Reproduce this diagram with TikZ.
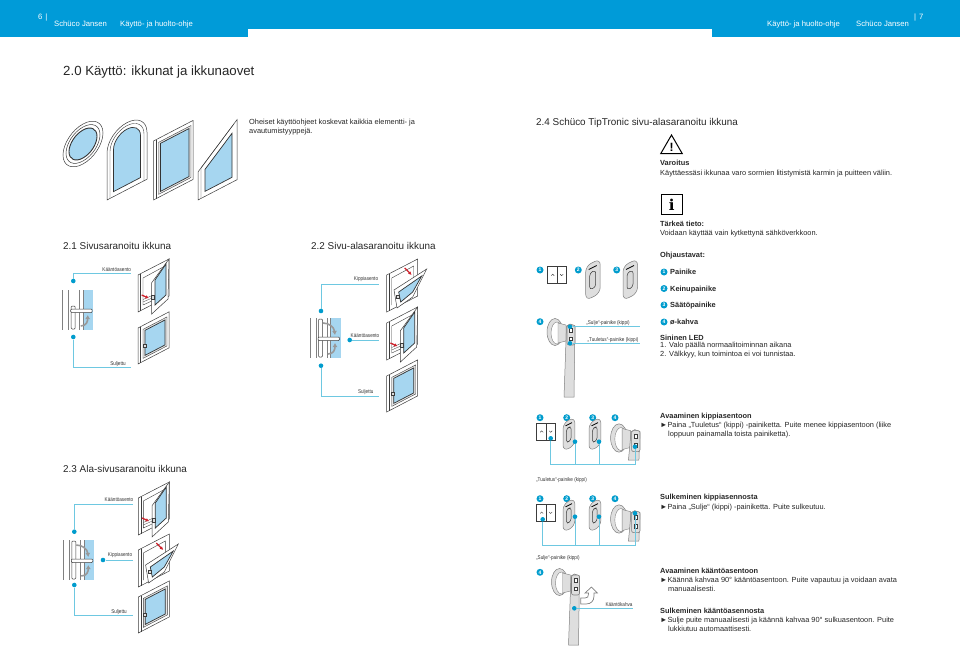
\documentclass[tikz,border=0pt]{standalone}
\usepackage{fontspec}
\setmainfont{Liberation Sans}
\newfontfamily\condfont[FakeStretch=0.84]{Liberation Sans}
\newfontfamily\slabfont{DejaVu Serif}
\usetikzlibrary{arrows.meta, shapes.geometric, calc}
\definecolor{bandblue}{RGB}{0,155,216}
\definecolor{dotblue}{RGB}{0,156,205}
\definecolor{leadblue}{RGB}{110,200,225}
\definecolor{glassblue}{RGB}{166,214,240}
\definecolor{inkgray}{RGB}{60,60,60}
\definecolor{platefill}{RGB}{222,222,222}
\definecolor{arrowred}{RGB}{205,35,45}
\tikzset{
	bandtext/.style={font=\fontsize{7.7}{8}\selectfont, text=white, anchor=base west, inner sep=0pt},
	headtext/.style={font=\fontsize{9.9}{11}\selectfont, text=black!85, anchor=base west, inner sep=0pt},
	bodytext/.style={font=\fontsize{7.4}{8}\selectfont, text=black!85, anchor=base west, inner sep=0pt},
	boldtext/.style={font=\fontsize{7.4}{8}\selectfont\bfseries, text=black!85, anchor=base west, inner sep=0pt},
	smalllabel/.style={font=\condfont\fontsize{5.5}{6}\selectfont, text=black!80, inner sep=0pt},
	bluedot/.style={circle, fill=dotblue, inner sep=0pt, minimum size=4.6pt},
	badge/.style={circle, fill=dotblue, text=white, inner sep=0pt, minimum size=7pt, font=\fontsize{5}{5}\selectfont\bfseries},
	leader/.style={draw=leadblue, line width=0.9pt},
	frameline/.style={draw=inkgray, line width=0.5pt, fill=white},
	glass/.style={draw=black!80, line width=0.7pt, fill=glassblue},
	redarrow/.style={draw=arrowred, line width=1.3pt, -{Latex[length=3.5pt,width=3.5pt]}},
	swing/.style={draw=gray!80, line width=1.6pt, line cap=butt, -{Latex[length=4pt,width=5pt]}}
}
% window seen at an angle
\newcommand{\skewwin}[4]{
	\begin{scope}[cm={1,0.52,0,1,(#1,#2)}]
		\draw[frameline] (0,0) rectangle (#3,#4);
		\draw[draw=inkgray, line width=0.4pt] (2.5,0) -- (2.5,#4);
		\draw[draw=inkgray, line width=0.4pt, fill=white!90!black] (5,4) rectangle ({#3-2},{#4-3});
		\draw[glass] (7,6) rectangle ({#3-4},{#4-5});
	\end{scope}
}
\newcommand{\closedwin}[2]{
	\skewwin{#1}{#2}{31}{36}
	\begin{scope}[shift={(#1,#2)}]
		\draw[frameline, fill=platefill] (5,16) rectangle (8,19.5);
	\end{scope}
}
\newcommand{\turnwin}[2]{
	\begin{scope}[shift={(#1,#2)}]
		\draw[frameline] (0,0) -- (31,-16) -- (31,21) -- (0,37) -- cycle;
		\draw[draw=inkgray, line width=0.4pt] (2.5,-1.3) -- (2.5,35.7);
		\draw[draw=inkgray, line width=0.4pt] (5,3) -- (27,-9) -- (27,19) (5,3) -- (5,30) -- (16,25);
		\draw[draw=inkgray, line width=0.3pt] (5,27) -- (14,23) (5,24.5) -- (14,20.5);
		\draw[frameline] (13.7,7.7) -- (31,-16) -- (30,24) -- (13.7,39) -- cycle;
		\draw[glass] (17,5) -- (28,-11) -- (28,20) -- (17,30) -- cycle;
		\draw[frameline, fill=platefill] (13.5,20.5) rectangle (16.5,24);
		\draw[redarrow] (3.7,20) -- (11,23.3);
	\end{scope}
}
\newcommand{\tiltwin}[2]{
	\begin{scope}[shift={(#1,#2)}]
		\draw[frameline] (0,0) -- (31,-16) -- (31,21) -- (0,37) -- cycle;
		\draw[draw=inkgray, line width=0.4pt] (2.5,-1.3) -- (2.5,35.7);
		\draw[draw=inkgray, line width=0.4pt] (5,3) -- (27,-9) -- (27,5) (5,3) -- (5,30);
		\draw[frameline] (7.3,15) -- (40,-6) -- (26,22) -- (10.3,33) -- cycle;
		\draw[glass] (12,17) -- (35,1) -- (26,17) -- (14,27) -- cycle;
		\draw[frameline, fill=platefill] (9.5,20) rectangle (12.5,23.5);
		\draw[redarrow] (18,-7) -- (25,0);
	\end{scope}
}
% cross section with the handle positions
\newcommand{\sectionview}[3]{
	\begin{scope}[shift={(#1,#2)}]
		\fill[glassblue] (20.5,0) rectangle (30.5,40);
		\draw[draw=gray, line width=0.6pt] (0,0) -- (0,40) (6,0) -- (6,40) (17,0) -- (17,40) (20.5,0) -- (20.5,40);
		\draw[frameline, rounded corners=1pt] (8.5,#3) rectangle (12.5,39);
		\draw[frameline, rounded corners=1pt] (8,19) rectangle (29.5,22.5);
		\draw[swing] (18,36) .. controls (24,36) and (25,31) .. (25,25);
	\end{scope}
}
\newcommand{\upswing}[2]{
	\begin{scope}[shift={(#1,#2)}]
		\draw[swing] (13,5) .. controls (19,5) and (24,9) .. (25,17);
	\end{scope}
}
% cover plate of a button
\newcommand{\coverplate}[3]{
	\begin{scope}[shift={(#1,#2)}, scale=#3, cm={1,0.5,0,1,(0,0)}]
		\draw[draw=gray, line width=0.5pt, fill=platefill, rounded corners=6pt] (0,0) rectangle (14.5,34.5);
		\draw[draw=inkgray, line width=0.5pt, fill=white!85!black, rounded corners=3pt] (4,9) rectangle (10,26);
		\draw[draw=black, line width=0.8pt] (3,5) -- (11,5);
	\end{scope}
}
% handle with its rose
\newcommand{\kahva}[4]{
	\begin{scope}[shift={(#1,#2)}, scale=#3]
		\draw[draw=gray, line width=0.5pt, fill=platefill] (0,0) ellipse [x radius=8pt, y radius=13.5pt];
		\draw[draw=gray, line width=0.4pt, fill=white] (2,1) ellipse [x radius=6pt, y radius=11pt];
		\draw[draw=gray, line width=0.4pt, fill=platefill] (3,-9) -- (11,-7) -- (11,9) -- (3,11) -- cycle;
		\draw[draw=gray, line width=0.5pt, fill=platefill] (11.5,-6) -- (15,-8) -- (20,-6) -- (19,#4) -- (9,#4) -- cycle;
		\draw[draw=gray, line width=0.6pt, fill=platefill, rounded corners=2pt] (12,-7) rectangle (20,13);
		\draw[draw=inkgray, line width=0.5pt, fill=white] (14.5,-3.5) rectangle (17.5,0) (14.5,5) rectangle (17.5,8.5);
	\end{scope}
}
\newcommand{\schalter}[2]{
	\begin{scope}[shift={(#1,#2)}]
		\draw[draw=inkgray, line width=1pt, fill=white] (0,0) rectangle (19,17);
		\draw[draw=inkgray, line width=1pt] (9.5,0) -- (9.5,17);
		\draw[draw=inkgray, line width=0.4pt] (3.5,9) -- (5,7.5) -- (6.5,9) (12.5,7.5) -- (14,9) -- (15.5,7.5);
	\end{scope}
}
\begin{document}
\begin{tikzpicture}[x=1pt,y=-1pt]
	\useasboundingbox (0,0) rectangle (960,647);
	% header bands
	\fill[bandblue] (0,0) rectangle (248,37);
	\fill[bandblue] (248,0) rectangle (712,29);
	\fill[bandblue] (712,0) rectangle (960,37);
	\node[bandtext] (page6) at (38,20) {6\hspace{3pt}|};
	\node[bandtext] (leftfirm) at (54,27) {Schüco Jansen};
	\node[bandtext] (lefttitle) at (120,27) {Käyttö- ja huolto-ohje};
	\node[bandtext] (page7) at (914,20) {|\hspace{3pt}7};
	\node[bandtext] (righttitle) at (767,27) {Käyttö- ja huolto-ohje};
	\node[bandtext] (rightfirm) at (856,27) {Schüco Jansen};

	% headings
	\node[headtext, font=\fontsize{13.25}{14}\selectfont] (h20) at (63,76) {2.0 Käyttö: ikkunat ja ikkunaovet};
	\node[headtext] (h21) at (63,249.5) {2.1 Sivusaranoitu ikkuna};
	\node[headtext] (h22) at (311,249.5) {2.2 Sivu-alasaranoitu ikkuna};
	\node[headtext] (h23) at (63,472) {2.3 Ala-sivusaranoitu ikkuna};
	\node[headtext] (h24) at (536,126) {2.4 Schüco TipTronic sivu-alasaranoitu ikkuna};
	\node[bodytext] (introa) at (249,124.5) {Oheiset käyttöohjeet koskevat kaikkia elementti- ja};
	\node[bodytext] (introb) at (249,133.5) {avautumistyyppejä.};

	% window types
	\begin{scope}[cm={1,0.55,0,1,(83,144)}]
		\draw[frameline] (0,0) circle [radius=20pt];
		\draw[frameline] (0,0) circle [radius=17pt];
		\draw[glass, line width=0.9pt] (0,0) circle [radius=14pt];
	\end{scope}
	\begin{scope}[cm={1,0.52,0,1,(107,200)}]
		\draw[frameline] (0,0) -- (0,-47) arc [start angle=180, end angle=0, radius=20pt] -- (40,0) -- cycle;
		\draw[draw=inkgray, line width=0.4pt] (3,0) -- (3,-47) arc [start angle=180, end angle=0, radius=17pt] -- (37,0);
		\draw[glass] (6.5,-5) -- (6.5,-47) arc [start angle=180, end angle=0, radius=13.5pt] -- (33.5,-5) -- cycle;
	\end{scope}
	\skewwin{153.5}{141}{39.5}{59}
	\begin{scope}[cm={1,0.52,0,1,(198,200)}]
		\draw[frameline] (0,0) -- (0,-28) -- (39,-60) -- (39,0) -- cycle;
		\draw[draw=inkgray, line width=0.4pt] (3,0) -- (3,-30.5) -- (36,-57.5);
		\draw[glass] (7,-5) -- (7,-27) -- (34,-49) -- (34,-5) -- cycle;
	\end{scope}

	% 2.1
	\turnwin{138}{275}
	\closedwin{138}{328}
	\sectionview{62.7}{290}{16}
	\node[bluedot] (d21a) at (73.3,281) {};
	\node[bluedot] (d21b) at (73.3,337) {};
	\coordinate (e21a) at (130.7,273);
	\coordinate (e21b) at (130.7,367.7);
	\draw[leader] (d21a) |- (e21a);
	\draw[leader] (d21b) |- (e21b);
	\node[smalllabel] (l21a) at (116.7,270) {Kääntöasento};
	\node[smalllabel] (l21b) at (118,364.5) {Suljettu};

	% 2.2
	\tiltwin{386.7}{275}
	\turnwin{386.7}{323}
	\closedwin{386.7}{376}
	\sectionview{310}{318}{1}
	\upswing{310}{318}
	\node[bluedot] (d22a) at (321,311) {};
	\node[bluedot] (d22b) at (349.7,340) {};
	\node[bluedot] (d22c) at (321,365.7) {};
	\coordinate (e22a) at (379,284);
	\coordinate (e22b) at (379,340);
	\coordinate (e22c) at (379,396);
	\draw[leader] (d22a) |- (e22a);
	\draw[leader] (d22b) -- (e22b);
	\draw[leader] (d22c) |- (e22c);
	\node[smalllabel] (l22a) at (366,279) {Kippiasento};
	\node[smalllabel] (l22b) at (365,336) {Kääntöasento};
	\node[smalllabel] (l22c) at (365.7,392) {Suljettu};

	% 2.3
	\turnwin{138.3}{498}
	\tiltwin{138.3}{550}
	\closedwin{138.3}{597}
	\sectionview{63.3}{540}{1}
	\upswing{63.3}{540}
	\node[bluedot] (d23a) at (74.3,531.7) {};
	\node[bluedot] (d23b) at (103,560) {};
	\node[bluedot] (d23c) at (74.3,585) {};
	\coordinate (e23a) at (132.7,504.3);
	\coordinate (e23b) at (132.7,560);
	\coordinate (e23c) at (132.7,615.7);
	\draw[leader] (d23a) |- (e23a);
	\draw[leader] (d23b) -- (e23b);
	\draw[leader] (d23c) |- (e23c);
	\node[smalllabel] (l23a) at (119,499.3) {Kääntöasento};
	\node[smalllabel] (l23b) at (120,555) {Kippiasento};
	\node[smalllabel] (l23c) at (119,612) {Suljettu};

	% controls
	\node[badge] (b1) at (540,270) {1};
	\node[badge] (b2) at (578.3,270) {2};
	\node[badge] (b3) at (616.7,270) {3};
	\node[badge] (b4) at (540,321.7) {4};
	\schalter{547.7}{266.7}
	\coverplate{585.7}{266}{1}
	\coverplate{623}{266}{1}
	\kahva{555}{332}{1}{65}
	\node[bluedot] (dsulje) at (570,326.7) {};
	\node[bluedot] (dtuul) at (570,343.3) {};
	\coordinate (esulje) at (640,326.7);
	\coordinate (etuul) at (640,343.3);
	\draw[leader] (dsulje) -- (esulje);
	\draw[leader] (dtuul) -- (etuul);
	\node[smalllabel] (lsulje) at (608,322.7) {„Sulje“-painike (kippi)};
	\node[smalllabel] (ltuul) at (613,340) {„Tuuletus“-painike (kippi)};

	% row opening
	\foreach \bx/\bn in {540/1,566.7/2,592.7/3,615/4}{
		\node[badge] (ra\bn) at (\bx,417.7) {\bn};
		\node[badge] (rb\bn) at (\bx,498.7) {\bn};
	}
	\schalter{536.7}{423.3}
	\coverplate{563}{423}{0.82}
	\coverplate{589}{423}{0.82}
	\kahva{619}{438}{1.05}{21}
	\schalter{536.7}{504.5}
	\coverplate{563}{504}{0.82}
	\coverplate{589}{504}{0.82}
	\kahva{619}{519}{1.05}{21}
	\node[bluedot] (da1) at (550.7,438.3) {};
	\node[bluedot] (da2) at (575,441.7) {};
	\node[bluedot] (da3) at (599,441.7) {};
	\node[bluedot] (da4) at (635,446.7) {};
	\coordinate (ea1) at (550.7,464.3);
	\coordinate (ea4) at (635,464.3);
	\draw[leader] (da1) |- (ea4) -- (da4);
	\draw[leader] (da2) -- (da2 |- ea1);
	\draw[leader] (da3) -- (da3 |- ea1);
	\node[smalllabel, anchor=west] (ltuul2) at (536,480) {„Tuuletus“-painike (kippi)};
	\node[bluedot] (db1) at (542.7,519.3) {};
	\node[bluedot] (db2) at (575,516.7) {};
	\node[bluedot] (db3) at (599,516.7) {};
	\node[bluedot] (db4) at (635,513.3) {};
	\coordinate (eb1) at (542.7,545.7);
	\coordinate (eb4) at (635,545.7);
	\draw[leader] (db1) |- (eb4) -- (db4);
	\draw[leader] (db2) -- (db2 |- eb1);
	\draw[leader] (db3) -- (db3 |- eb1);
	\node[smalllabel, anchor=west] (lsulje2) at (536,557.7) {„Sulje“-painike (kippi)};

	% turning the handle
	\node[badge] (b4c) at (540,572.3) {4};
	\kahva{559.5}{582}{1}{63}
	\draw[frameline, draw=gray, line width=0.7pt] (580.7,598) -- (585,598) .. controls (587.5,598) and (588.5,597) .. (588.5,594) -- (588.5,593) -- (585,593) -- (591.5,587) -- (597.3,593) -- (594,593) -- (594,596) .. controls (594,601) and (591,604) .. (586,604) -- (580.7,604) -- cycle;
	\node[bluedot] (dkahva) at (574.3,608.3) {};
	\coordinate (ekahva) at (632.7,608.3);
	\draw[leader] (dkahva) -- (ekahva);
	\node[smalllabel] (lkahva) at (619,605) {Kääntökahva};

	% warning and notice
	\node[draw=black, line width=1pt, regular polygon, regular polygon sides=3, inner sep=0pt, minimum size=25pt, font=\bfseries\fontsize{12}{12}\selectfont] (warn) at (671.5,147.5) {!};
	\node[draw=black, line width=1pt, minimum width=21pt, minimum height=20pt, inner sep=0pt, font=\slabfont\bfseries\fontsize{15}{15}\selectfont] (info) at (671.7,204.7) {i};
	\node[boldtext] (tva) at (660,165.5) {Varoitus};
	\node[bodytext] (tvb) at (660,175.5) {Käyttäessäsi ikkunaa varo sormien litistymistä karmin ja puitteen väliin.};
	\node[boldtext] (tta) at (660,226.5) {Tärkeä tieto:};
	\node[bodytext] (ttb) at (660,235) {Voidaan käyttää vain kytkettynä sähköverkkoon.};
	\node[boldtext] (tohj) at (660,257.5) {Ohjaustavat:};
	\foreach \by/\bn/\bt in {272/1/Painike,288.5/2/Keinupainike,305/3/Säätöpainike,322/4/ø-kahva}{
		\node[badge] (lb\bn) at (664,\by) {\bn};
		\node[boldtext] (lt\bn) at (670,\by+2.5) {\bt};
	}
	\node[boldtext] (tled) at (660,340.5) {Sininen LED};
	\node[bodytext] (tled1) at (660,347.5) {1. Valo päällä normaalitoiminnan aikana};
	\node[bodytext] (tled2) at (660,356.5) {2. Välkkyy, kun toimintoa ei voi tunnistaa.};
	\node[boldtext] (taa) at (660,418.5) {Avaaminen kippiasentoon};
	\node[bodytext] (tab) at (660,427.5) {►Paina „Tuuletus“ (kippi) -painiketta. Puite menee kippiasentoon (liike};
	\node[bodytext] (tac) at (668,436.5) {loppuun painamalla toista painiketta).};
	\node[boldtext] (tba) at (660,499.5) {Sulkeminen kippiasennosta};
	\node[bodytext] (tbb) at (660,509.5) {►Paina „Sulje“ (kippi) -painiketta. Puite sulkeutuu.};
	\node[boldtext] (tca) at (660,573.5) {Avaaminen kääntöasentoon};
	\node[bodytext] (tcb) at (660,582.5) {►Käännä kahvaa 90° kääntöasentoon. Puite vapautuu ja voidaan avata};
	\node[bodytext] (tcc) at (668,591.5) {manuaalisesti.};
	\node[boldtext] (tda) at (660,613.5) {Sulkeminen kääntöasennosta};
	\node[bodytext] (tdb) at (660,622.5) {►Sulje puite manuaalisesti ja käännä kahvaa 90° sulkuasentoon. Puite};
	\node[bodytext] (tdc) at (668,631.5) {lukkiutuu automaattisesti.};
\end{tikzpicture}
\end{document}
